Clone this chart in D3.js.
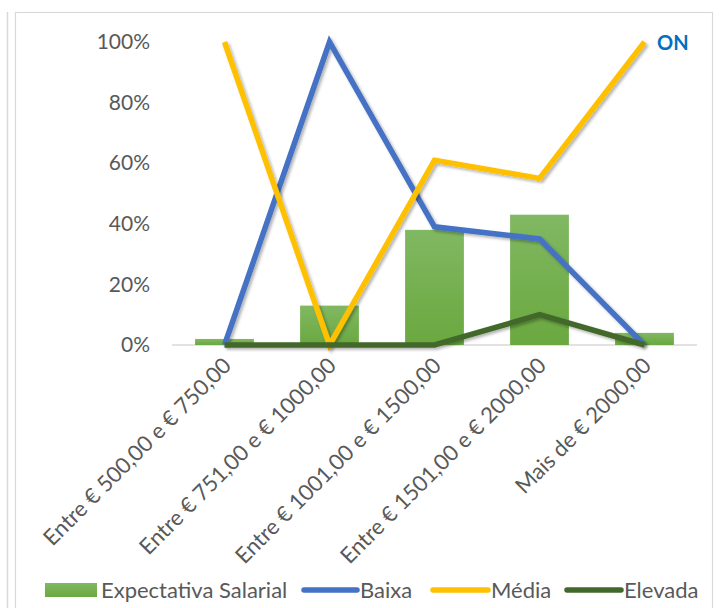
<!DOCTYPE html>
<html><head><meta charset="utf-8">
<script src="https://cdn.jsdelivr.net/npm/d3@7"></script>
<style>body{margin:0;background:#fff;} svg{display:block;font-family:Lato,"Open Sans",sans-serif;}</style>
</head><body>
<script>
const categories = ["Entre € 500,00 e € 750,00","Entre € 751,00 e € 1000,00","Entre € 1001,00 e € 1500,00","Entre € 1501,00 e € 2000,00","Mais de € 2000,00"];
const expectativa = [0.02, 0.13, 0.38, 0.43, 0.04];
const baixa = [0, 1.00, 0.39, 0.35, 0];
const media = [1.00, 0, 0.61, 0.55, 1.00];
const elevada = [0, 0, 0, 0.10, 0];
const yTicks = [0, 0.2, 0.4, 0.6, 0.8, 1.0];
const seriesNames = ["Expectativa Salarial","Baixa","Média","Elevada"];

const W = 721, H = 608;
const svg = d3.select("body").append("svg").attr("width", W).attr("height", H);
const defs = svg.append("defs");
const grad = defs.append("linearGradient").attr("id","barGrad").attr("x1",0).attr("y1",0).attr("x2",0).attr("y2",1);
grad.append("stop").attr("offset","0%").attr("stop-color","#81b862");
grad.append("stop").attr("offset","100%").attr("stop-color","#6aa83f");
const sh = defs.append("filter").attr("id","shadow").attr("x","-10%").attr("y","-10%").attr("width","130%").attr("height","130%");
sh.append("feDropShadow").attr("dx",2).attr("dy",2).attr("stdDeviation",1.5).attr("flood-color","#000").attr("flood-opacity",0.3);

// frames
svg.append("line").attr("x1",7.5).attr("x2",7.5).attr("y1",12).attr("y2",H).attr("stroke","#d9d9d9").attr("stroke-width",1.5);
svg.append("rect").attr("x",15.5).attr("y",12.5).attr("width",697).attr("height",H).attr("fill","none").attr("stroke","#d9d9d9").attr("stroke-width",1.2);

const x = d3.scaleBand().domain(categories).range([172, 697]).paddingInner(0.44).paddingOuter(0.22);
const xc = d => x(d) + x.bandwidth()/2;
const y = d3.scaleLinear().domain([0,1]).range([345, 42]);

// y axis labels
const yAxis = d3.axisLeft(y).tickValues(yTicks).tickFormat(d3.format(".0%")).tickSize(0).tickPadding(0);
const ya = svg.append("g").attr("transform","translate(150,0)").call(yAxis);
ya.select(".domain").remove();
ya.selectAll("text").attr("fill","#595959").style("font-size","21px").style("font-family","Lato,sans-serif");

// baseline
svg.append("line").attr("x1",172).attr("x2",697).attr("y1",y(0)).attr("y2",y(0)).attr("stroke","#d9d9d9").attr("stroke-width",1.5);

// bars
svg.append("g").selectAll("rect").data(categories).join("rect")
  .attr("x", d => x(d)).attr("width", x.bandwidth())
  .attr("y", (d,i) => y(expectativa[i])).attr("height", (d,i) => y(0) - y(expectativa[i]))
  .attr("fill","url(#barGrad)");

// lines
const line = d3.line().x((d,i) => xc(categories[i])).y(d => y(d));
[[baixa,"#4472c4"],[media,"#ffc000"],[elevada,"#43682b"]].forEach(([vals,col]) => {
  svg.append("path").datum(vals).attr("d", line).attr("fill","none").attr("stroke",col)
    .attr("stroke-width",5.5).attr("stroke-linejoin","miter").attr("filter","url(#shadow)");
});

// x labels
const xa = d3.axisBottom(x).tickSize(0).tickPadding(0);
const xg = svg.append("g").attr("transform",`translate(0,${y(0)})`).call(xa);
xg.select(".domain").remove();
xg.selectAll("text").attr("fill","#595959").style("font-size","22px").style("font-family","Lato,sans-serif")
  .attr("text-anchor","end").attr("dy",null).attr("y",0)
  .attr("transform","translate(8,22) rotate(-45)");

// ON label
svg.append("text").attr("x",657).attr("y",50).text("ON").attr("fill","#0070c0")
  .style("font-weight","bold").style("font-size","20px").style("font-family","Lato,sans-serif");

// legend
const lg = svg.append("g").attr("transform","translate(0,590)");
lg.append("rect").attr("x",45).attr("y",-7).attr("width",52).attr("height",14).attr("fill","url(#barGrad)");
const items = [
  {t:seriesNames[0], x:101},
  {t:seriesNames[1], x:360, c:"#4472c4", lx:304},
  {t:seriesNames[2], x:491, c:"#ffc000", lx:433},
  {t:seriesNames[3], x:624, c:"#43682b", lx:567}
];
items.forEach(it => {
  if (it.c) lg.append("line").attr("x1",it.lx).attr("x2",it.x-3).attr("y1",0).attr("y2",0)
    .attr("stroke",it.c).attr("stroke-width",5.5).attr("stroke-linecap","round");
  lg.append("text").attr("x",it.x).attr("y",8).text(it.t).attr("fill","#595959")
    .style("font-size","22px").style("font-family","Lato,sans-serif");
});
</script>
</body></html>
